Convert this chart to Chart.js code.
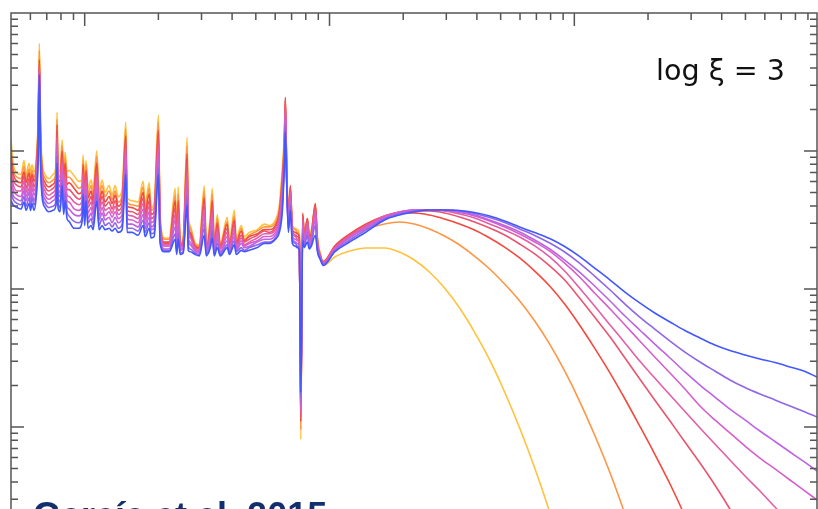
<!DOCTYPE html>
<html lang="en">
  <head>
    <meta charset="UTF-8" />
    <title>Reflection spectra, log xi = 3</title>
    <script src="https://cdn.jsdelivr.net/npm/chart.js"></script>
    <style>
      html, body { margin: 0; padding: 0; background: #fff; overflow: hidden; height: 509px; }
      .wrap { position: relative; width: 818px; height: 600px; }
      .wrap canvas { position: absolute; left: 0; top: 0; }
      .ion { position: absolute; left: 656px; top: 56px; font: 28.6px/28px "DejaVu Sans", sans-serif; color: #111; white-space: pre; }
      .ref { position: absolute; left: 33px; top: 498px; font: bold 36px/35px "Liberation Sans", Arial, sans-serif; color: #12306e; white-space: pre; }
    </style>
  </head>
  <body>
    <div class="wrap">
      <canvas id="spectrum" width="818" height="600"></canvas>
      <div class="ion">log ξ = 3</div>
      <div class="ref">García et al. 2015</div>
    </div>

    <script>
      // photon energy grid (keV)
      const energy = [
        0.5, 0.51, 0.53, 0.55, 0.565, 0.576, 0.593, 0.601, 0.609, 0.621,
        0.633, 0.645, 0.653, 0.66, 0.669, 0.689, 0.715, 0.743, 0.764, 0.771,
        0.778, 0.793, 0.809, 0.82, 0.832, 0.847, 0.863, 0.905, 0.948, 0.976,
        0.985, 1.0, 1.013, 1.032, 1.062, 1.082, 1.12, 1.145, 1.178, 1.211,
        1.258, 1.294, 1.331, 1.37, 1.422, 1.472, 1.49, 1.562, 1.653, 1.733,
        1.766, 1.834, 1.869, 1.922, 2.0, 2.033, 2.112, 2.215, 2.343, 2.376,
        2.41, 2.456, 2.525, 2.62, 2.648, 2.698, 2.83, 2.937, 3.079, 3.138,
        3.26, 3.32, 3.383, 3.48, 3.58, 3.823, 3.9, 4.085, 4.16, 4.36,
        4.487, 4.7, 5.07, 5.42, 5.68, 6.01, 6.24, 6.42, 6.54, 6.6,
        6.67, 6.79, 6.92, 7.05, 7.26, 7.39, 7.53, 7.63, 7.77, 7.89,
        8.12, 8.27, 8.43, 8.75, 8.93, 9.18, 9.44,
        10.5, 12.1, 14.1, 16.8, 19.3, 22.2, 25.6, 29.5, 34.0, 39.1,
        45.1, 51.9, 59.8, 68.9, 79.3, 91.3, 105, 121, 140, 161,
        185, 213, 246, 283, 326, 375, 432, 498, 573, 660,
        760, 876, 980
      ];

      // log10 of the model flux, one array per curve (same length as energy)
      const logFluxYellow = [
        0.08, -0.09, -0.16, -0.17, -0.07, -0.17, -0.09, -0.17, -0.10, -0.15,
        -0.07, 0.22, 0.78, 0.19, -0.07, -0.17, -0.20, -0.17, -0.10, 0.28,
        -0.12, -0.15, 0.08, -0.14, -0.01, -0.15, -0.14, -0.18, -0.22, -0.21,
        -0.03, -0.25, -0.07, -0.27, -0.21, -0.28, 0.00, -0.30, -0.21, -0.30,
        -0.25, -0.32, -0.25, -0.33, -0.28, 0.21, -0.34, -0.36, -0.37, -0.22,
        -0.39, -0.23, -0.41, -0.38, 0.26, -0.46, -0.63, -0.63, -0.27, -0.64,
        -0.26, -0.66, -0.63, 0.10, -0.46, -0.54, -0.67, -0.68, -0.25, -0.69,
        -0.47, -0.27, -0.67, -0.46, -0.67, -0.48, -0.66, -0.43, -0.64, -0.54,
        -0.62, -0.59, -0.57, -0.53, -0.54, -0.50, -0.39, -0.12, 0.12, 0.33,
        0.01, -0.46, -0.28, -0.54, -0.56, -0.57, -0.60, -2.09, -0.49, -0.59,
        -0.50, -0.59, -0.57, -0.41, -0.63, -0.75, -0.83,
        -0.768, -0.725, -0.703, -0.703, -0.732, -0.790, -0.877, -0.993, -1.138, -1.312,
        -1.514, -1.746, -2.007, -2.297, -2.616, -2.964, -3.341, null, null, null,
        null, null, null, null, null, null, null, null, null, null,
        null, null, null
      ];
      const logFluxOrange = [
        0.03, -0.13, -0.19, -0.20, -0.11, -0.20, -0.13, -0.21, -0.14, -0.19,
        -0.10, 0.19, 0.73, 0.16, -0.10, -0.20, -0.23, -0.21, -0.14, 0.23,
        -0.16, -0.19, 0.04, -0.18, -0.05, -0.19, -0.19, -0.23, -0.27, -0.25,
        -0.07, -0.28, -0.10, -0.31, -0.25, -0.32, -0.04, -0.33, -0.25, -0.33,
        -0.29, -0.35, -0.29, -0.37, -0.32, 0.16, -0.37, -0.39, -0.40, -0.26,
        -0.42, -0.27, -0.43, -0.41, 0.21, -0.49, -0.64, -0.64, -0.32, -0.66,
        -0.31, -0.67, -0.64, 0.04, -0.50, -0.56, -0.68, -0.69, -0.29, -0.70,
        -0.50, -0.31, -0.69, -0.49, -0.68, -0.51, -0.67, -0.47, -0.66, -0.56,
        -0.64, -0.61, -0.58, -0.55, -0.55, -0.52, -0.42, -0.16, 0.09, 0.37,
        -0.02, -0.48, -0.26, -0.55, -0.57, -0.59, -0.62, -2.02, -0.46, -0.60,
        -0.49, -0.61, -0.59, -0.39, -0.64, -0.75, -0.815,
        -0.703, -0.623, -0.565, -0.529, -0.514, -0.529, -0.565, -0.616, -0.681, -0.761,
        -0.855, -0.964, -1.087, -1.232, -1.399, -1.594, -1.812, -2.058, -2.333, -2.630,
        -2.942, -3.275, null, null, null, null, null, null, null, null,
        null, null, null
      ];
      const logFluxRed = [
        -0.03, -0.16, -0.22, -0.23, -0.15, -0.23, -0.16, -0.24, -0.17, -0.22,
        -0.13, 0.15, 0.66, 0.12, -0.13, -0.23, -0.26, -0.24, -0.17, 0.19,
        -0.20, -0.22, 0.00, -0.22, -0.09, -0.24, -0.23, -0.27, -0.31, -0.29,
        -0.10, -0.32, -0.14, -0.34, -0.29, -0.36, -0.09, -0.37, -0.29, -0.37,
        -0.33, -0.38, -0.32, -0.40, -0.35, 0.11, -0.40, -0.41, -0.43, -0.30,
        -0.45, -0.31, -0.46, -0.44, 0.15, -0.52, -0.66, -0.66, -0.36, -0.67,
        -0.36, -0.68, -0.66, -0.02, -0.53, -0.59, -0.69, -0.70, -0.34, -0.71,
        -0.53, -0.36, -0.70, -0.52, -0.69, -0.53, -0.68, -0.50, -0.67, -0.58,
        -0.65, -0.62, -0.60, -0.57, -0.57, -0.54, -0.44, -0.19, 0.06, 0.39,
        -0.04, -0.50, -0.25, -0.57, -0.59, -0.60, -0.63, -1.96, -0.45, -0.62,
        -0.49, -0.62, -0.60, -0.38, -0.66, -0.76, -0.80,
        -0.688, -0.601, -0.529, -0.471, -0.449, -0.449, -0.464, -0.493, -0.529, -0.572,
        -0.630, -0.696, -0.775, -0.870, -0.978, -1.109, -1.261, -1.428, -1.609, -1.797,
        -1.993, -2.196, -2.413, -2.645, -2.899, -3.181, null, null, null, null,
        null, null, null
      ];
      const logFluxCrimson = [
        -0.08, -0.20, -0.25, -0.26, -0.18, -0.27, -0.20, -0.27, -0.20, -0.26,
        -0.17, 0.12, 0.63, 0.09, -0.16, -0.26, -0.29, -0.27, -0.21, 0.14,
        -0.23, -0.26, -0.04, -0.26, -0.14, -0.28, -0.28, -0.32, -0.35, -0.32,
        -0.14, -0.35, -0.17, -0.38, -0.33, -0.39, -0.13, -0.40, -0.33, -0.40,
        -0.37, -0.42, -0.36, -0.43, -0.39, 0.07, -0.43, -0.44, -0.46, -0.34,
        -0.48, -0.36, -0.49, -0.47, 0.10, -0.54, -0.67, -0.67, -0.41, -0.68,
        -0.41, -0.69, -0.67, -0.08, -0.56, -0.61, -0.70, -0.71, -0.38, -0.72,
        -0.56, -0.40, -0.71, -0.55, -0.70, -0.56, -0.70, -0.53, -0.68, -0.61,
        -0.66, -0.64, -0.61, -0.58, -0.59, -0.55, -0.46, -0.23, 0.04, 0.37,
        -0.06, -0.51, -0.27, -0.58, -0.61, -0.62, -0.65, -1.93, -0.47, -0.63,
        -0.50, -0.64, -0.62, -0.40, -0.67, -0.76, -0.81,
        -0.696, -0.609, -0.536, -0.471, -0.442, -0.435, -0.435, -0.449, -0.478, -0.514,
        -0.558, -0.609, -0.674, -0.746, -0.833, -0.935, -1.065, -1.203, -1.348, -1.500,
        -1.652, -1.804, -1.957, -2.109, -2.261, -2.420, -2.594, -2.783, -2.978, -3.174,
        null, null, null
      ];
      const logFluxPink = [
        -0.14, -0.24, -0.29, -0.29, -0.22, -0.30, -0.23, -0.30, -0.24, -0.29,
        -0.20, 0.08, 0.61, 0.06, -0.19, -0.29, -0.32, -0.30, -0.25, 0.10,
        -0.27, -0.30, -0.08, -0.30, -0.18, -0.32, -0.33, -0.37, -0.39, -0.36,
        -0.17, -0.39, -0.21, -0.41, -0.37, -0.43, -0.18, -0.43, -0.37, -0.43,
        -0.41, -0.45, -0.40, -0.46, -0.42, 0.02, -0.46, -0.47, -0.49, -0.38,
        -0.50, -0.40, -0.52, -0.50, 0.04, -0.57, -0.68, -0.68, -0.46, -0.70,
        -0.45, -0.70, -0.68, -0.15, -0.59, -0.63, -0.71, -0.72, -0.43, -0.72,
        -0.59, -0.45, -0.72, -0.58, -0.71, -0.59, -0.71, -0.56, -0.70, -0.63,
        -0.68, -0.66, -0.63, -0.60, -0.60, -0.57, -0.49, -0.27, 0.01, 0.33,
        -0.08, -0.53, -0.30, -0.60, -0.62, -0.64, -0.66, -1.89, -0.50, -0.65,
        -0.52, -0.65, -0.63, -0.43, -0.68, -0.77, -0.81,
        -0.703, -0.616, -0.543, -0.471, -0.442, -0.428, -0.428, -0.435, -0.457, -0.486,
        -0.529, -0.572, -0.623, -0.688, -0.768, -0.870, -0.993, -1.123, -1.261, -1.391,
        -1.522, -1.645, -1.768, -1.888, -2.007, -2.123, -2.239, -2.355, -2.464, -2.580,
        -2.688, -2.797, -2.884
      ];
      const logFluxMagenta = [
        -0.19, -0.28, -0.32, -0.33, -0.26, -0.33, -0.27, -0.34, -0.27, -0.32,
        -0.24, 0.04, 0.59, 0.03, -0.22, -0.32, -0.35, -0.33, -0.28, 0.05,
        -0.30, -0.33, -0.12, -0.34, -0.23, -0.36, -0.37, -0.42, -0.43, -0.40,
        -0.21, -0.43, -0.25, -0.45, -0.41, -0.46, -0.22, -0.47, -0.41, -0.47,
        -0.44, -0.48, -0.44, -0.49, -0.46, -0.03, -0.49, -0.50, -0.52, -0.42,
        -0.53, -0.44, -0.55, -0.53, -0.01, -0.59, -0.69, -0.69, -0.50, -0.71,
        -0.50, -0.71, -0.70, -0.21, -0.62, -0.66, -0.72, -0.73, -0.47, -0.73,
        -0.62, -0.49, -0.73, -0.61, -0.73, -0.62, -0.72, -0.59, -0.71, -0.65,
        -0.69, -0.67, -0.65, -0.62, -0.62, -0.59, -0.51, -0.31, -0.02, 0.28,
        -0.11, -0.54, -0.33, -0.62, -0.64, -0.65, -0.67, -1.86, -0.53, -0.66,
        -0.55, -0.67, -0.64, -0.46, -0.69, -0.77, -0.815,
        -0.710, -0.623, -0.551, -0.478, -0.442, -0.428, -0.428, -0.431, -0.446, -0.471,
        -0.507, -0.551, -0.601, -0.659, -0.725, -0.812, -0.913, -1.029, -1.145, -1.261,
        -1.377, -1.493, -1.609, -1.725, -1.848, -1.949, -2.043, -2.138, -2.225, -2.304,
        -2.384, -2.464, -2.529
      ];
      const logFluxOrchid = [
        -0.25, -0.32, -0.35, -0.36, -0.29, -0.36, -0.30, -0.37, -0.31, -0.36,
        -0.27, 0.01, 0.58, 0.00, -0.26, -0.35, -0.38, -0.36, -0.32, 0.00,
        -0.34, -0.37, -0.17, -0.38, -0.27, -0.40, -0.42, -0.46, -0.47, -0.44,
        -0.25, -0.46, -0.28, -0.49, -0.45, -0.50, -0.27, -0.50, -0.45, -0.50,
        -0.48, -0.52, -0.48, -0.52, -0.49, -0.08, -0.53, -0.53, -0.55, -0.46,
        -0.56, -0.48, -0.57, -0.56, -0.07, -0.62, -0.71, -0.71, -0.55, -0.72,
        -0.55, -0.72, -0.71, -0.27, -0.65, -0.68, -0.73, -0.74, -0.52, -0.74,
        -0.64, -0.54, -0.74, -0.64, -0.74, -0.65, -0.73, -0.62, -0.72, -0.67,
        -0.70, -0.69, -0.66, -0.64, -0.64, -0.61, -0.54, -0.35, -0.05, 0.24,
        -0.13, -0.56, -0.36, -0.63, -0.66, -0.67, -0.69, -1.82, -0.56, -0.67,
        -0.58, -0.68, -0.66, -0.50, -0.71, -0.78, -0.82,
        -0.717, -0.630, -0.558, -0.486, -0.449, -0.428, -0.428, -0.428, -0.438, -0.464,
        -0.500, -0.540, -0.587, -0.645, -0.710, -0.790, -0.877, -0.978, -1.087, -1.196,
        -1.297, -1.399, -1.500, -1.601, -1.696, -1.783, -1.870, -1.949, -2.029, -2.105,
        -2.181, -2.257, -2.319
      ];
      const logFluxPurple = [
        -0.30, -0.35, -0.38, -0.39, -0.33, -0.40, -0.34, -0.40, -0.34, -0.39,
        -0.31, -0.03, 0.56, -0.03, -0.29, -0.38, -0.41, -0.40, -0.36, -0.04,
        -0.38, -0.41, -0.21, -0.42, -0.31, -0.44, -0.47, -0.51, -0.52, -0.48,
        -0.28, -0.50, -0.32, -0.52, -0.49, -0.54, -0.31, -0.54, -0.49, -0.54,
        -0.52, -0.55, -0.52, -0.56, -0.53, -0.13, -0.56, -0.56, -0.58, -0.50,
        -0.59, -0.52, -0.60, -0.59, -0.12, -0.65, -0.72, -0.72, -0.60, -0.73,
        -0.60, -0.74, -0.73, -0.33, -0.69, -0.71, -0.74, -0.75, -0.56, -0.75,
        -0.67, -0.58, -0.75, -0.67, -0.75, -0.68, -0.74, -0.65, -0.73, -0.70,
        -0.72, -0.70, -0.68, -0.66, -0.66, -0.63, -0.56, -0.39, -0.07, 0.19,
        -0.15, -0.57, -0.39, -0.65, -0.67, -0.69, -0.70, -1.79, -0.60, -0.69,
        -0.61, -0.70, -0.67, -0.54, -0.72, -0.78, -0.82,
        -0.725, -0.645, -0.572, -0.493, -0.457, -0.435, -0.428, -0.428, -0.435, -0.453,
        -0.482, -0.518, -0.565, -0.612, -0.667, -0.732, -0.812, -0.906, -1.007, -1.109,
        -1.203, -1.290, -1.377, -1.457, -1.529, -1.594, -1.659, -1.714, -1.761, -1.804,
        -1.848, -1.891, -1.928
      ];
      const logFluxBlue = [
        -0.36, -0.39, -0.41, -0.42, -0.37, -0.43, -0.38, -0.43, -0.38, -0.43,
        -0.34, -0.07, 0.55, -0.07, -0.32, -0.41, -0.44, -0.43, -0.39, -0.09,
        -0.41, -0.44, -0.25, -0.46, -0.36, -0.49, -0.51, -0.56, -0.56, -0.51,
        -0.32, -0.54, -0.36, -0.56, -0.54, -0.57, -0.36, -0.57, -0.54, -0.57,
        -0.56, -0.58, -0.56, -0.59, -0.57, -0.17, -0.59, -0.59, -0.61, -0.54,
        -0.62, -0.56, -0.63, -0.62, -0.17, -0.67, -0.73, -0.73, -0.64, -0.75,
        -0.64, -0.75, -0.74, -0.39, -0.72, -0.73, -0.75, -0.76, -0.61, -0.76,
        -0.70, -0.63, -0.76, -0.70, -0.76, -0.70, -0.75, -0.68, -0.75, -0.72,
        -0.73, -0.72, -0.70, -0.67, -0.67, -0.64, -0.59, -0.43, -0.10, 0.14,
        -0.17, -0.59, -0.43, -0.67, -0.69, -0.70, -0.72, -1.75, -0.65, -0.70,
        -0.66, -0.71, -0.69, -0.61, -0.73, -0.79, -0.83,
        -0.732, -0.659, -0.587, -0.500, -0.464, -0.442, -0.428, -0.428, -0.431, -0.446,
        -0.471, -0.507, -0.551, -0.591, -0.634, -0.692, -0.764, -0.848, -0.935, -1.022,
        -1.101, -1.174, -1.239, -1.301, -1.355, -1.406, -1.446, -1.478, -1.507, -1.533,
        -1.565, -1.598, -1.638
      ];

      const series = [logFluxYellow, logFluxOrange, logFluxRed, logFluxCrimson, logFluxPink,
                      logFluxMagenta, logFluxOrchid, logFluxPurple, logFluxBlue];
      const colors = ["#ffc23c", "#ff9645", "#f24a3f", "#ea5470", "#e35ea6",
                      "#d65fcc", "#bd63e3", "#9066e8", "#4157ff"];

      const datasets = series.map((vals, i) => ({
        data: energy.map((e, j) => ({ x: e, y: vals[j] === null ? null : Math.pow(10, vals[j]) })),
        borderColor: colors[i],
        borderWidth: 1.6,
        pointRadius: 0,
        cubicInterpolationMode: "monotone",
        fill: false,
        order: series.length - 1 - i, // blue drawn last
      }));

      // box with inward log ticks on all four sides
      const frameTicks = {
        id: "frameTicks",
        afterDatasetsDraw(chart) {
          const { ctx, chartArea: a, scales } = chart;
          const logTicks = (min, max) => {
            const out = [];
            for (let p = Math.floor(Math.log10(min)); p <= Math.ceil(Math.log10(max)); p++) {
              for (let k = 1; k <= 9; k++) {
                const v = k * Math.pow(10, p);
                if (v >= min * 0.999 && v <= max * 1.001) out.push([v, k === 1]);
              }
            }
            return out;
          };
          ctx.save();
          ctx.strokeStyle = "#555";
          ctx.lineWidth = 1.5;
          ctx.beginPath();
          ctx.rect(a.left, a.top, a.right - a.left, a.bottom - a.top);
          for (const [v, major] of logTicks(scales.x.min, scales.x.max)) {
            const px = scales.x.getPixelForValue(v);
            const len = major ? 13 : 7;
            ctx.moveTo(px, a.top);
            ctx.lineTo(px, a.top + len);
            ctx.moveTo(px, a.bottom);
            ctx.lineTo(px, a.bottom - len);
          }
          for (const [v, major] of logTicks(scales.y.min, scales.y.max)) {
            const py = scales.y.getPixelForValue(v);
            const len = major ? 13 : 7;
            ctx.moveTo(a.left, py);
            ctx.lineTo(a.left + len, py);
            ctx.moveTo(a.right, py);
            ctx.lineTo(a.right - len, py);
          }
          ctx.stroke();
          ctx.restore();
        },
      };

      new Chart(document.getElementById("spectrum"), {
        type: "line",
        data: { datasets },
        plugins: [frameTicks],
        options: {
          responsive: false,
          devicePixelRatio: 1,
          animation: false,
          events: [],
          layout: { padding: { left: 11, top: 13, right: 1, bottom: 35 } },
          plugins: { legend: { display: false }, tooltip: { enabled: false } },
          scales: {
            x: { type: "logarithmic", min: 0.5, max: 980, display: false },
            y: { type: "logarithmic", min: 0.001, max: 10, display: false },
          },
        },
      });
    </script>
  </body>
</html>
